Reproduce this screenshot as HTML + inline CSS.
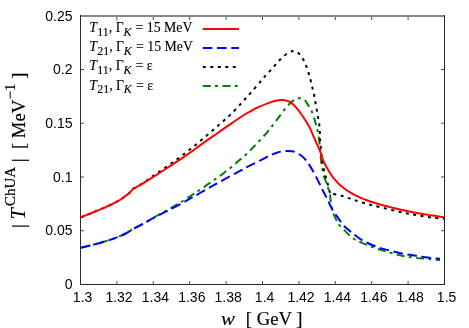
<!DOCTYPE html>
<html><head><meta charset="utf-8"><style>
html,body{margin:0;padding:0;background:#fff;}
svg{display:block}
text{font-family:"Liberation Sans",sans-serif;font-size:14px;fill:#000}
.lg{font-family:"Liberation Serif",serif;font-size:13.8px;stroke:#000;stroke-width:0.12px}
.sb{font-size:12px}
.ax{font-family:"Liberation Serif",serif;font-size:18.67px;stroke:#000;stroke-width:0.18px}
.c{fill:none;stroke-width:2;stroke-linejoin:round}
</style></head><body>
<svg width="469" height="328" viewBox="0 0 469 328">
<rect width="469" height="328" fill="#fff"/>
<g class="c">
<path d="M81.0,247.8 C83.0,247.3 88.7,245.9 92.8,244.8 C96.9,243.7 101.3,242.6 105.6,241.3 C109.9,240.0 115.2,238.0 118.4,236.8 C121.6,235.6 122.7,235.1 124.8,234.0 C126.9,232.9 129.7,231.1 131.2,230.2 C132.7,229.3 131.9,229.7 133.8,228.6 C135.7,227.5 139.2,225.8 142.8,223.8 C146.4,221.8 151.3,218.9 155.6,216.5 C159.9,214.1 164.1,211.9 168.4,209.5 C172.7,207.1 177.1,204.5 181.2,202.0 C185.3,199.5 189.7,196.5 192.8,194.5 C195.9,192.5 197.2,191.7 199.8,190.0 C202.4,188.3 205.3,186.1 208.1,184.2 C210.9,182.3 213.9,180.2 216.5,178.4 C219.1,176.6 220.9,175.1 223.5,173.2 C226.1,171.2 229.2,168.8 231.8,166.7 C234.4,164.5 236.7,162.5 239.2,160.3 C241.7,158.1 244.4,156.0 246.9,153.7 C249.4,151.4 251.6,149.0 253.9,146.6 C256.2,144.2 258.5,141.8 260.9,139.2 C263.2,136.6 265.8,133.9 268.0,131.3 C270.2,128.7 272.0,126.1 274.0,123.5 C276.0,120.9 277.8,118.4 280.0,115.6 C282.2,112.8 284.9,109.0 287.0,106.6 C289.1,104.1 291.0,102.3 292.8,100.9 C294.6,99.5 296.1,98.6 297.9,98.3 C299.7,98.0 302.1,98.2 303.7,99.2 C305.3,100.2 306.2,102.2 307.5,104.1 C308.8,106.0 310.2,108.4 311.3,110.5 C312.4,112.6 313.1,114.7 313.9,116.9 C314.6,119.1 315.2,121.8 315.8,123.9 C316.4,126.0 316.9,127.6 317.4,129.7 C317.9,131.8 318.3,133.7 318.7,136.5 C319.1,139.3 319.6,143.5 319.9,146.7 C320.2,149.9 320.3,152.6 320.6,155.7 C320.9,158.8 321.2,161.8 321.7,165.1 C322.2,168.4 322.8,172.2 323.7,175.4 C324.6,178.6 325.8,181.1 326.9,184.3 C328.0,187.5 329.6,192.8 330.1,194.5 L330.1,194.5 C330.2,195.6 330.3,198.2 330.7,200.9 C331.1,203.6 331.3,207.2 332.3,210.5 C333.3,213.8 335.5,218.2 336.7,220.7 C337.9,223.1 337.9,223.5 339.3,225.2 C340.7,226.9 342.7,228.7 345.0,230.9 C347.3,233.1 350.5,236.5 353.3,238.5 C356.1,240.5 357.9,241.1 361.6,242.7 C365.3,244.3 370.8,246.6 375.4,248.2 C380.0,249.8 384.7,251.1 389.3,252.4 C393.9,253.7 398.5,255.1 403.1,256.0 C407.7,256.9 412.4,257.3 417.0,257.9 C421.6,258.4 427.1,258.9 430.9,259.3 C434.7,259.7 438.5,259.9 440.0,260.0" stroke="#008000" stroke-dasharray="8 4.2 3 4.5"/>
<path d="M81.0,217.3 C83.0,216.5 88.7,214.2 92.8,212.5 C96.9,210.8 101.3,209.0 105.6,207.1 C109.9,205.2 115.2,202.6 118.4,200.8 C121.6,199.0 122.9,197.9 124.8,196.5 C126.7,195.1 128.7,193.5 129.9,192.4 C131.1,191.3 131.5,190.8 132.0,190.2 C132.5,189.6 132.6,189.2 133.1,188.8 C133.6,188.4 133.8,188.4 135.0,187.8 C136.2,187.2 138.1,186.2 140.0,185.0 C141.9,183.8 144.5,182.0 146.7,180.5 C148.9,179.0 150.9,177.5 153.0,176.0 C155.1,174.5 157.3,173.0 159.4,171.6 C161.5,170.2 163.7,168.8 165.8,167.3 C167.9,165.8 170.2,164.2 172.2,162.8 C174.2,161.4 176.0,160.1 178.0,158.6 C180.0,157.1 182.0,155.6 184.0,154.0 C186.0,152.4 188.2,150.9 190.2,149.3 C192.2,147.7 194.0,146.2 196.0,144.6 C198.0,143.0 200.0,141.3 202.0,139.6 C204.0,137.9 206.0,136.2 207.9,134.6 C209.8,132.9 211.6,131.4 213.5,129.7 C215.4,128.0 217.5,126.3 219.4,124.6 C221.3,122.9 223.0,121.4 224.8,119.7 C226.7,118.0 227.8,117.3 230.5,114.6 C233.2,111.9 237.7,107.1 241.1,103.5 C244.5,99.9 247.3,96.6 250.7,92.8 C254.1,89.0 258.7,83.6 261.3,80.6 C263.9,77.5 264.7,76.5 266.5,74.5 C268.3,72.5 270.3,70.7 272.0,68.8 C273.7,66.9 275.2,64.9 276.9,63.0 C278.6,61.1 280.4,59.2 282.3,57.5 C284.2,55.8 286.4,53.9 288.0,52.9 C289.6,51.9 290.8,51.4 292.0,51.2 C293.2,51.0 294.2,51.2 295.3,51.5 C296.4,51.8 297.5,52.5 298.5,53.2 C299.5,54.0 300.1,54.4 301.2,56.0 C302.3,57.6 303.8,60.4 304.9,62.8 C306.0,65.1 306.8,67.7 307.6,70.1 C308.4,72.5 309.1,74.6 309.8,77.1 C310.5,79.5 311.0,82.3 311.6,84.8 C312.2,87.3 313.0,89.5 313.5,91.9 C314.0,94.3 314.4,96.8 314.8,99.2 C315.2,101.7 315.8,104.1 316.2,106.6 C316.6,109.1 317.1,111.6 317.5,114.1 C317.9,116.5 318.4,118.8 318.8,121.3 C319.2,123.8 319.5,126.3 319.7,129.0 C319.9,131.7 319.8,134.6 319.9,137.2 C320.0,139.8 320.4,142.2 320.6,144.8 C320.8,147.4 321.0,149.9 321.2,152.5 C321.4,155.1 321.3,156.9 321.9,160.5 C322.5,164.1 324.0,170.3 324.9,174.1 C325.8,177.8 326.8,180.2 327.5,183.0 C328.2,185.8 328.9,188.8 329.4,190.7 C329.9,192.6 330.2,193.7 330.4,194.3 L330.4,194.3 C330.8,194.2 331.0,193.8 332.6,194.0 C334.2,194.2 337.9,194.8 340.3,195.4 C342.8,196.0 344.9,196.9 347.3,197.7 C349.8,198.5 351.4,199.2 355.0,200.3 C358.6,201.4 363.7,203.0 368.9,204.4 C374.1,205.8 380.3,207.2 386.0,208.6 C391.7,210.0 397.9,211.6 403.1,212.7 C408.3,213.8 412.4,214.4 417.0,215.2 C421.6,216.0 426.2,216.8 430.9,217.4 C435.6,218.1 442.6,218.8 445.0,219.1" stroke="#000" stroke-dasharray="3 4.5"/>
<path d="M81.0,247.8 C83.0,247.3 88.7,245.9 92.8,244.8 C96.9,243.7 101.3,242.6 105.6,241.3 C109.9,240.0 115.2,238.0 118.4,236.8 C121.6,235.6 122.7,235.1 124.8,234.0 C126.9,232.9 129.7,231.1 131.2,230.2 C132.7,229.3 131.9,229.6 133.8,228.6 C135.7,227.6 139.2,225.8 142.8,223.9 C146.4,222.0 151.3,219.2 155.6,216.9 C159.9,214.6 164.1,212.5 168.4,210.3 C172.7,208.1 177.6,205.6 181.2,203.6 C184.8,201.6 187.0,200.3 190.0,198.6 C193.0,196.9 195.5,195.6 199.2,193.5 C202.9,191.4 207.7,188.6 212.0,186.2 C216.3,183.8 220.1,181.8 224.8,179.2 C229.5,176.6 235.9,173.1 240.0,170.9 C244.1,168.7 245.9,167.6 249.4,165.8 C252.9,164.0 257.5,161.8 260.9,160.1 C264.3,158.4 267.1,156.8 269.6,155.6 C272.1,154.4 274.1,153.7 276.0,153.0 C277.9,152.3 279.2,151.9 281.0,151.6 C282.8,151.2 285.2,150.9 287.0,150.9 C288.8,150.9 290.6,151.1 292.0,151.3 C293.4,151.5 294.0,151.6 295.6,152.3 C297.2,153.0 299.7,154.4 301.4,155.7 C303.1,157.0 304.3,158.2 305.8,160.0 C307.3,161.8 308.7,164.1 310.2,166.4 C311.7,168.8 313.2,171.3 314.7,174.1 C316.2,176.9 317.8,180.2 319.2,183.0 C320.6,185.8 321.7,188.1 323.0,190.7 C324.3,193.3 325.2,195.1 326.9,198.4 C328.5,201.7 331.1,207.4 332.9,210.5 C334.6,213.6 335.9,214.8 337.4,216.9 C338.9,219.0 340.4,221.4 341.9,223.3 C343.4,225.2 344.8,226.7 346.3,228.1 C347.8,229.5 348.2,229.8 350.8,231.8 C353.4,233.8 357.5,237.5 361.6,239.9 C365.7,242.3 370.8,244.6 375.4,246.3 C380.0,248.1 384.7,249.2 389.3,250.4 C393.9,251.6 398.5,252.8 403.1,253.7 C407.7,254.6 412.4,255.3 417.0,256.0 C421.6,256.7 427.1,257.4 430.9,257.9 C434.7,258.4 438.5,258.7 440.0,258.9" stroke="#0000ff" stroke-dasharray="9.6 4.6"/>
<path d="M81.0,217.3 C83.0,216.5 88.7,214.2 92.8,212.5 C96.9,210.8 101.3,209.0 105.6,207.1 C109.9,205.2 115.2,202.6 118.4,200.8 C121.6,199.0 122.9,197.9 124.8,196.5 C126.7,195.1 128.7,193.5 129.9,192.4 C131.1,191.3 131.5,190.8 132.0,190.2 C132.5,189.6 132.6,189.2 133.1,188.8 C133.6,188.4 133.8,188.4 135.0,187.8 C136.2,187.2 137.7,186.6 140.0,185.2 C142.3,183.8 145.3,181.9 149.1,179.5 C152.9,177.1 156.8,174.8 162.6,171.0 C168.4,167.2 178.6,160.4 184.0,156.8 C189.4,153.2 191.2,151.8 194.8,149.2 C198.4,146.6 201.7,144.2 205.6,141.4 C209.5,138.6 214.1,135.5 218.4,132.5 C222.7,129.5 226.9,126.5 231.2,123.6 C235.5,120.7 239.7,117.6 244.0,115.0 C248.3,112.4 252.5,109.9 256.8,107.8 C261.1,105.7 266.4,103.8 269.6,102.6 C272.8,101.4 274.2,101.1 276.0,100.7 C277.8,100.3 279.0,100.1 280.5,100.0 C282.0,99.9 283.5,99.9 285.1,100.3 C286.7,100.7 288.5,101.2 290.2,102.2 C291.9,103.2 293.7,104.8 295.4,106.6 C297.1,108.4 298.8,110.7 300.5,113.0 C302.2,115.3 304.0,118.1 305.6,120.7 C307.2,123.3 308.7,125.6 310.1,128.4 C311.5,131.2 312.4,133.8 314.2,137.8 C315.9,141.8 319.1,148.8 320.6,152.5 C322.1,156.2 321.9,157.5 323.0,160.0 C324.1,162.5 325.4,165.0 326.9,167.7 C328.4,170.4 330.5,173.8 332.0,176.0 C333.5,178.2 334.7,179.3 336.0,180.8 C337.3,182.3 338.3,183.6 340.0,185.1 C341.7,186.6 344.3,188.5 346.4,190.0 C348.5,191.5 350.7,192.7 352.8,193.9 C354.9,195.1 357.1,196.1 359.2,197.1 C361.3,198.1 363.5,198.9 365.6,199.7 C367.7,200.5 369.9,201.3 372.0,202.0 C374.1,202.7 376.3,203.4 378.4,204.0 C380.5,204.6 382.7,205.2 384.8,205.8 C386.9,206.4 388.7,206.8 391.2,207.4 C393.7,208.0 395.7,208.6 400.0,209.5 C404.3,210.4 411.9,211.9 417.0,212.9 C422.1,213.9 426.2,214.5 430.9,215.3 C435.6,216.1 442.6,217.1 445.0,217.5" stroke="#ff0000"/>
<path d="M202.8,29 H239" stroke="#ff0000"/>
<path d="M202.8,48 H239" stroke="#0000ff" stroke-dasharray="9.6 4.6"/>
<path d="M202.8,67 H236" stroke="#000" stroke-dasharray="3 4.5"/>
<path d="M202.8,86 H239" stroke="#008000" stroke-dasharray="8 4.2 3 4.5"/>
</g>
<g stroke="#2a2a2a" stroke-width="1" fill="none" shape-rendering="crispEdges">
<path d="M80.5,15 V284.5 H444.5 V15"/>
</g>
<path d="M80,16 H445" stroke="#101010" stroke-width="1" fill="none"/>
<g stroke="#484848" stroke-width="1" fill="none"><path d="M116.9,284.0 v-3 M116.9,17.0 v3"/><path d="M153.3,284.0 v-3 M153.3,17.0 v3"/><path d="M189.7,284.0 v-3 M189.7,17.0 v3"/><path d="M226.1,284.0 v-3 M226.1,17.0 v3"/><path d="M262.5,284.0 v-3 M262.5,17.0 v3"/><path d="M298.9,284.0 v-3 M298.9,17.0 v3"/><path d="M335.3,284.0 v-3 M335.3,17.0 v3"/><path d="M371.7,284.0 v-3 M371.7,17.0 v3"/><path d="M408.1,284.0 v-3 M408.1,17.0 v3"/><path d="M81.0,230.7 h3 M444.0,230.7 h-3"/><path d="M81.0,177.0 h3 M444.0,177.0 h-3"/><path d="M81.0,123.2 h3 M444.0,123.2 h-3"/><path d="M81.0,69.5 h3 M444.0,69.5 h-3"/></g>
<g style="filter:grayscale(1)">
<text x="82.6" y="301.9" text-anchor="middle">1.3</text><text x="119.0" y="301.9" text-anchor="middle">1.32</text><text x="155.4" y="301.9" text-anchor="middle">1.34</text><text x="191.8" y="301.9" text-anchor="middle">1.36</text><text x="228.2" y="301.9" text-anchor="middle">1.38</text><text x="264.6" y="301.9" text-anchor="middle">1.4</text><text x="301.0" y="301.9" text-anchor="middle">1.42</text><text x="337.4" y="301.9" text-anchor="middle">1.44</text><text x="373.8" y="301.9" text-anchor="middle">1.46</text><text x="410.2" y="301.9" text-anchor="middle">1.48</text><text x="446.6" y="301.9" text-anchor="middle">1.5</text>
<text x="72.5" y="288.8" text-anchor="end">0</text><text x="72.5" y="235.2" text-anchor="end">0.05</text><text x="72.5" y="181.6" text-anchor="end">0.1</text><text x="72.5" y="128.0" text-anchor="end">0.15</text><text x="72.5" y="74.4" text-anchor="end">0.2</text><text x="72.5" y="20.8" text-anchor="end">0.25</text>
<text x="89.2" y="32.4" class="lg"><tspan font-style="italic">T</tspan><tspan class="sb" dy="3.5" dx="0.3">11</tspan><tspan dy="-3.5">, Γ</tspan><tspan class="sb" font-style="italic" dy="3.5" dx="-0.2">K</tspan><tspan dy="-3.5" dx="0.7"> = 15 MeV</tspan></text>
<text x="89.2" y="51.4" class="lg"><tspan font-style="italic">T</tspan><tspan class="sb" dy="3.5" dx="0.3">21</tspan><tspan dy="-3.5">, Γ</tspan><tspan class="sb" font-style="italic" dy="3.5" dx="-0.2">K</tspan><tspan dy="-3.5" dx="0.7"> = 15 MeV</tspan></text>
<text x="89.2" y="70.3" class="lg"><tspan font-style="italic">T</tspan><tspan class="sb" dy="3.5" dx="0.3">11</tspan><tspan dy="-3.5">, Γ</tspan><tspan class="sb" font-style="italic" dy="3.5" dx="-0.2">K</tspan><tspan dy="-3.5" dx="0.7"> = ε</tspan></text>
<text x="89.2" y="89.5" class="lg"><tspan font-style="italic">T</tspan><tspan class="sb" dy="3.5" dx="0.3">21</tspan><tspan dy="-3.5">, Γ</tspan><tspan class="sb" font-style="italic" dy="3.5" dx="-0.2">K</tspan><tspan dy="-3.5" dx="0.7"> = ε</tspan></text>
<text class="ax" font-style="italic" style="stroke-width:0.12px" transform="translate(220.9,324.9) scale(1.12,1)">w</text><text class="ax" x="245.8" y="324.8">[ GeV ]</text>
<text class="ax" transform="translate(25,228) rotate(-90)">| <tspan font-style="italic" font-size="20.5px" style="stroke-width:0.1px">T</tspan><tspan font-size="14.9px" dy="-10.3" dx="2.2">ChUA</tspan><tspan dy="10.3" dx="0.2"> | </tspan><tspan dx="4.8"> [ MeV</tspan><tspan font-size="14.9px" dy="-10.3" dx="0.5">−1</tspan><tspan dy="10.3"> ]</tspan></text>
</g>
</svg>
</body></html>
